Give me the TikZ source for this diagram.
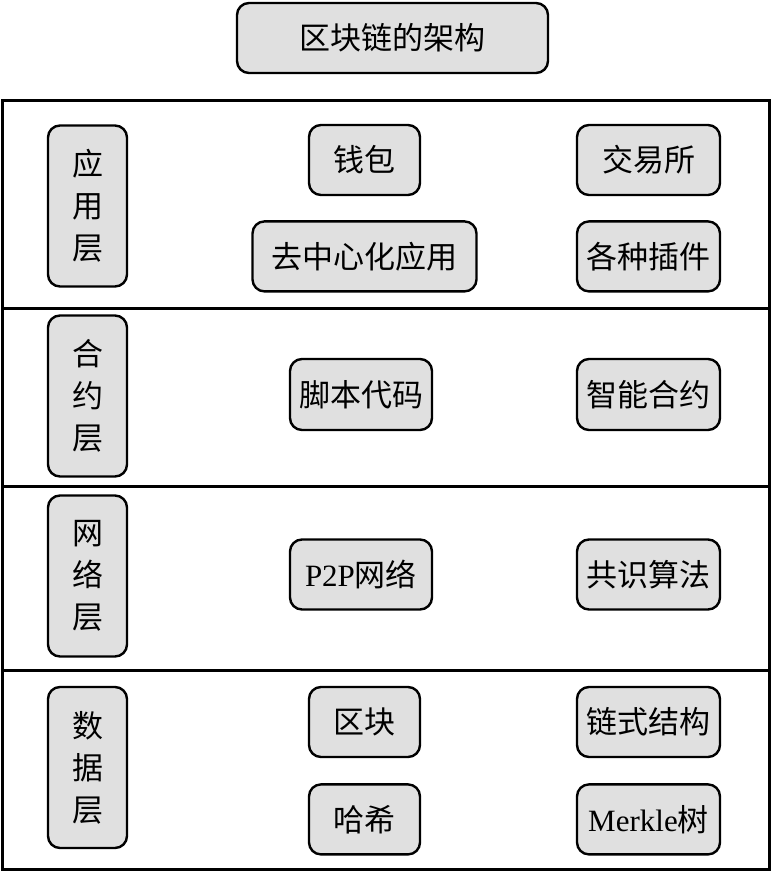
\documentclass[tikz,border=0pt]{standalone}
\usepackage{fontspec}
\setmainfont{Noto Sans CJK SC}
\newfontfamily\lat{Liberation Serif}
\usetikzlibrary{positioning}

\begin{document}
\begin{tikzpicture}[
    x=1pt, y=-1pt,
    font=\fontsize{31}{36}\selectfont,
    layer/.style={draw, line width=3pt, minimum width=767pt, inner sep=0pt},
    item/.style={draw, line width=2.4pt, rounded corners=12pt, fill=black!12, minimum height=70pt, inner sep=0pt},
    tag/.style={item, minimum width=79pt, minimum height=161pt, align=center, font=\fontsize{31}{42}\selectfont}
  ]
    \useasboundingbox (0,0) rectangle (773,871);
    % title
    \node[item, minimum width=311pt] (title) at (392.5,38) {区块链的架构};
    % the four layers
    \node[layer, minimum height=208pt] (appL) at (386,204) {};
    \node[layer, minimum height=178pt] (conL) at (386,397) {};
    \node[layer, minimum height=184pt] (netL) at (386,578) {};
    \node[layer, minimum height=199pt] (datL) at (386,769.5) {};
    % application layer
    \node[tag] (appTag) at (87.5,206) {应\\用\\层};
    \node[item, minimum width=111pt] (wallet) at (364.5,160) {钱包};
    \node[item, minimum width=143pt] (exchange) at (648.5,160) {交易所};
    \node[item, minimum width=224pt, below=24pt of wallet] (dapp) {去中心化应用};
    \node[item, minimum width=143pt, below=24pt of exchange] (plugin) {各种插件};
    % contract layer
    \node[tag] (conTag) at (87.5,396) {合\\约\\层};
    \node[item, minimum width=142pt, minimum height=71pt] (script) at (361,394.5) {脚本代码};
    \node[item, minimum width=143pt, minimum height=71pt] (smart) at (648.5,394.5) {智能合约};
    % network layer
    \node[tag] (netTag) at (87.5,576) {网\\络\\层};
    \node[item, minimum width=142pt] (ptp) at (361,574.5) {{\lat P2P}网络};
    \node[item, minimum width=143pt] (consensus) at (648.5,574.5) {共识算法};
    % data layer
    \node[tag] (datTag) at (87.5,767.5) {数\\据\\层};
    \node[item, minimum width=111pt] (block) at (364.5,722) {区块};
    \node[item, minimum width=143pt] (chain) at (648.5,722) {链式结构};
    \node[item, minimum width=111pt, below=25pt of block] (hash) {哈希};
    \node[item, minimum width=143pt, below=25pt of chain] (merkle) {{\lat Merkle}树};
  \end{tikzpicture}
\end{document}
